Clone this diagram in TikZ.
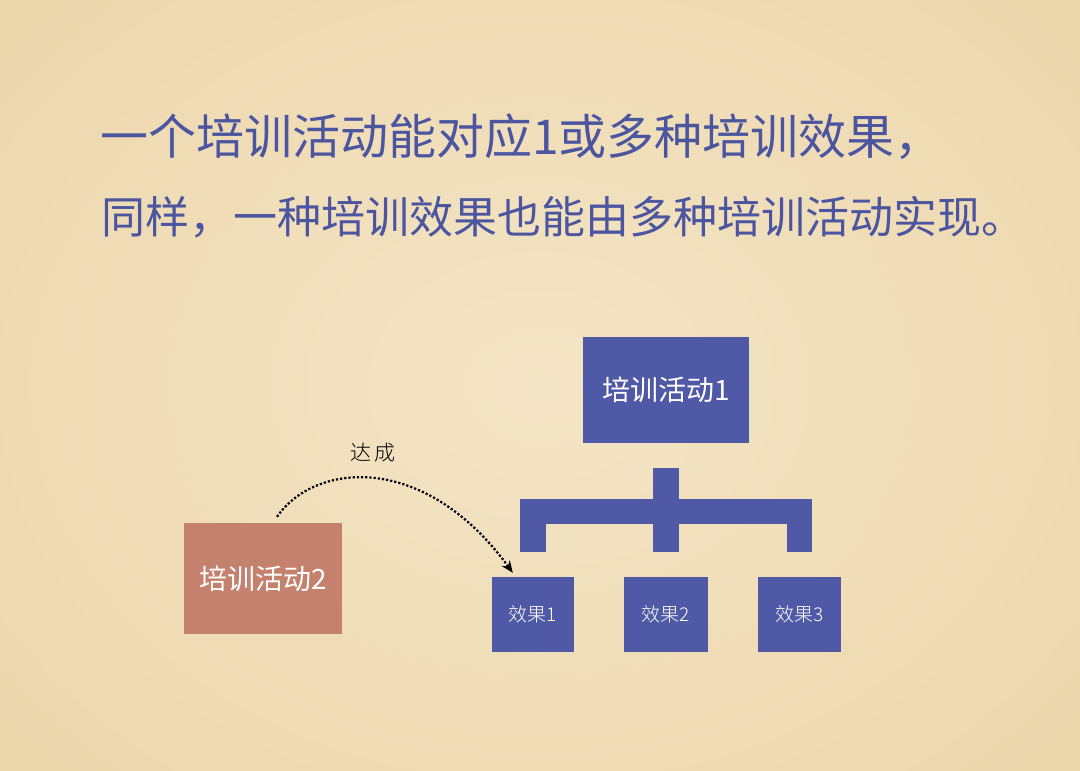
\documentclass[tikz,border=0pt]{standalone}
\usepackage{fontspec}
\setmainfont{Liberation Sans}
\newfontfamily\cjk{Noto Sans CJK SC}
\newfontfamily\cjklight{Noto Sans CJK SC Light}
\usetikzlibrary{arrows.meta}
\definecolor{paper}{HTML}{F4E5C6}
\definecolor{paperdark}{HTML}{EDD7AD}
\definecolor{boxblue}{HTML}{4F59A6}
\definecolor{titleblue}{HTML}{4B55A0}
\definecolor{boxsalmon}{HTML}{C4826E}
\tikzset{
  bluebox/.style={fill=boxblue, draw=none, inner sep=0pt, text=white},
  bar/.style={fill=boxblue, draw=none},
  titletext/.style={anchor=west, inner sep=0pt, text=titleblue},
  efftext/.style={font=\cjklight\fontsize{19}{22}\selectfont},
  acttext/.style={font=\cjk\fontsize{28}{32}\selectfont},
  reach/.style={draw=black, line width=2.2pt, dotted, -{Stealth[length=12pt,width=10pt]}},
}
\begin{document}
\begin{tikzpicture}[x=1pt,y=-1pt]
\useasboundingbox (0,0) rectangle (1080,771);
\shade[inner color=paper, outer color=paperdark] (-150,-150) rectangle (1230,921);

\node[titletext, font=\cjk\fontsize{48}{52}\selectfont] (t1) at (100,137) {一个培训活动能对应1或多种培训效果，};
\node[titletext, font=\cjk\fontsize{44}{50}\selectfont] (t2) at (101,217) {同样，一种培训效果也能由多种培训活动实现。};

\node[bluebox, acttext, minimum width=166pt, minimum height=106pt] (act1) at (666,390) {培训活动1};

\fill[bar] (653,468) rectangle (679,499);
\fill[bar] (520,499) rectangle (812,524);
\fill[bar] (520,524) rectangle (546,552);
\fill[bar] (653,524) rectangle (679,552);
\fill[bar] (787,524) rectangle (812,552);

\node[bluebox, efftext, minimum width=82pt, minimum height=75pt] (e1) at (533,614.5) {效果1};
\node[bluebox, efftext, minimum width=84pt, minimum height=75pt] (e2) at (666,614.5) {效果2};
\node[bluebox, efftext, minimum width=83pt, minimum height=75pt] (e3) at (799.5,614.5) {效果3};

\node[fill=boxsalmon, draw=none, inner sep=0pt, text=white, acttext, minimum width=158pt, minimum height=111pt] (act2) at (263,578.5) {培训活动2};

\node[inner sep=0pt, font=\cjklight\fontsize{21}{24}\selectfont] (lbl) at (373,453) {达\,成};

\draw[reach] ([xshift=14pt,yshift=6pt]act2.north) .. controls +(38,-55) and +(-88,-121) .. ([xshift=21pt,yshift=4pt]e1.north west);
\end{tikzpicture}
\end{document}
